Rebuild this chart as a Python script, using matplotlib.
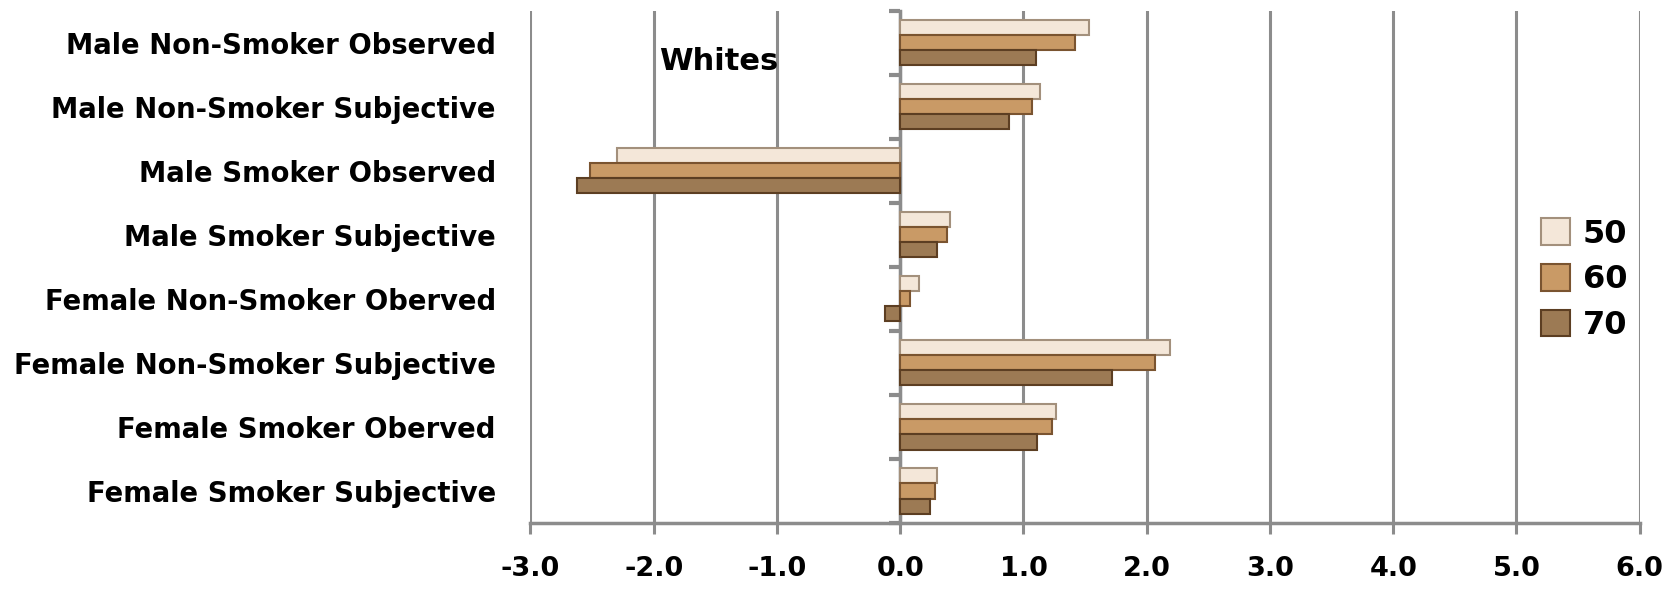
"""
Whites: observed vs subjective survival deviations by age
"""
import matplotlib.pyplot as plt
import numpy as np

plt.rcParams.update({'font.family': 'DejaVu Sans', 'font.weight': 'bold'})

GRAY = '#8c8c8c'

categories = ['Male Non-Smoker Observed', 'Male Non-Smoker Subjective',
              'Male Smoker Observed', 'Male Smoker Subjective',
              'Female Non-Smoker Oberved', 'Female Non-Smoker Subjective',
              'Female Smoker Oberved', 'Female Smoker Subjective']
age50 = [1.53, 1.13, -2.30, 0.40, 0.15, 2.19, 1.26, 0.30]
age60 = [1.42, 1.07, -2.52, 0.38, 0.08, 2.07, 1.23, 0.28]
age70 = [1.10, 0.88, -2.62, 0.30, -0.12, 1.72, 1.11, 0.24]
series_labels = ['50', '60', '70']
xticks = [-3.0, -2.0, -1.0, 0.0, 1.0, 2.0, 3.0, 4.0, 5.0, 6.0]

colors = ['#f4e7d9', '#c99a66', '#9c7a54']
edges = ['#a3907c', '#7a5430', '#5c3e22']

fig = plt.figure(figsize=(16.63, 5.91), dpi=100)
ax = fig.add_axes([0.319, 0.115, 0.667, 0.867])

y = np.arange(len(categories))
h = 0.235
for k, (vals, lab) in enumerate(zip([age50, age60, age70], series_labels)):
    ax.barh(y + (k - 1) * h, vals, height=h, color=colors[k], edgecolor=edges[k],
            linewidth=1.5, label=lab, zorder=3)

ax.set_xlim(-3, 6)
ax.set_ylim(len(categories) - 0.5, -0.5)
ax.set_xticks(xticks)
ax.set_xticklabels([f'{t:.1f}' for t in xticks], fontsize=19.5, fontweight='bold')
ax.set_yticks(y)
ax.set_yticklabels(categories, fontsize=19.8, fontweight='bold')
ax.tick_params(axis='y', length=0, pad=25)
ax.tick_params(axis='x', length=8, width=2.2, color=GRAY, pad=16)

ax.grid(axis='x', color=GRAY, linewidth=2.2, zorder=0)
for s in ['top', 'right', 'left']:
    ax.spines[s].set_visible(False)
ax.spines['bottom'].set_color(GRAY)
ax.spines['bottom'].set_linewidth(2.5)

# category axis drawn at zero with ticks between groups
sec = ax.secondary_yaxis(1 / 3)
sec.set_yticks(np.arange(len(categories) + 1) - 0.5)
sec.set_yticklabels([])
sec.tick_params(length=8, width=3, color=GRAY)
sec.spines['left'].set_color(GRAY)
sec.spines['left'].set_linewidth(2.5)

ax.text(0.17, 0.90, 'Whites', transform=ax.transAxes, fontsize=22,
        fontweight='bold', ha='center', va='center')

ax.legend(loc='center', bbox_to_anchor=(0.95, 0.475), frameon=False,
          handlelength=0.9, handleheight=0.9, handletextpad=0.4,
          labelspacing=0.45, prop={'weight': 'bold', 'size': 23})

fig.savefig('out.png', dpi=100, facecolor='white')
plt.close()
